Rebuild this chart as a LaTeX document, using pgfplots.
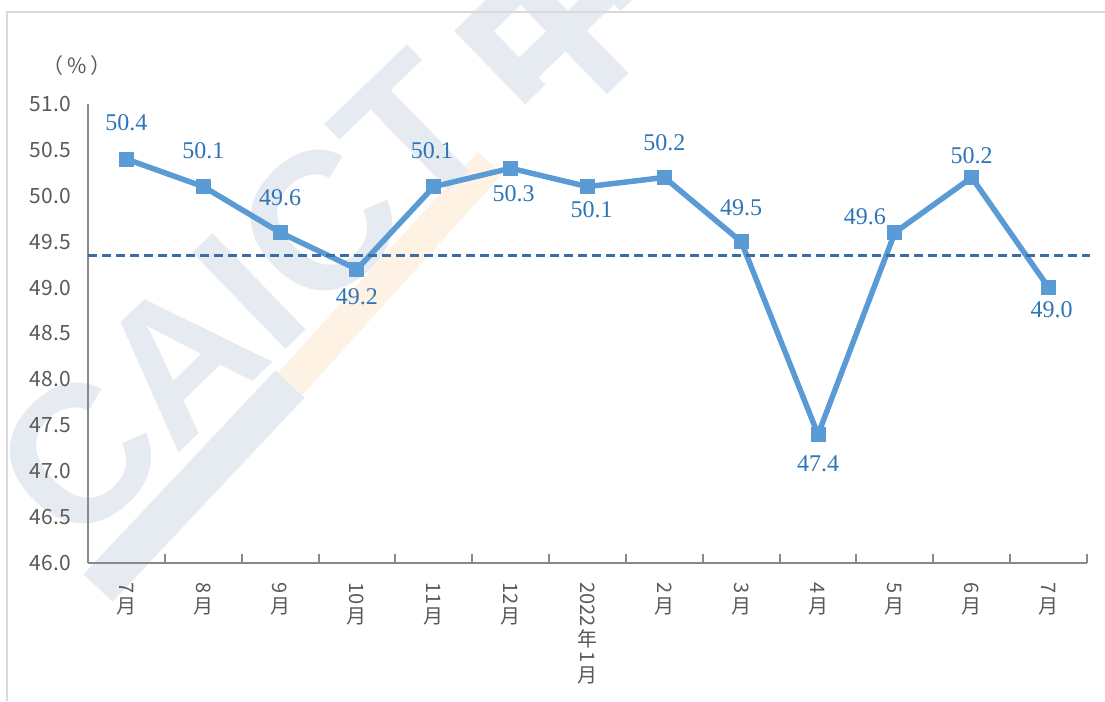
\documentclass[border=0pt]{standalone}
\usepackage{pgfplots}
\pgfplotsset{compat=1.18}
\usepackage{pgfplotstable}
\usepackage{graphicx}
\usepackage{fontspec}
\setmainfont{Liberation Serif}
\newfontfamily\cjk{Noto Sans CJK SC}
\newfontfamily\wmf{Liberation Sans}
\definecolor{linecol}{HTML}{5B9BD5}
\definecolor{labcol}{HTML}{2E75B6}
\definecolor{dashcol}{HTML}{3A6EA5}
\definecolor{axcol}{HTML}{898989}
\definecolor{tickcol}{HTML}{595959}
\definecolor{wmcol}{HTML}{E6EAF1}
\definecolor{wmor}{HTML}{FDF2E4}
\definecolor{framecol}{HTML}{D9D9D9}
\newcommand{\R}[1]{\rotatebox[origin=c]{-90}{#1}}

\pgfplotstableread{
x y dx dy
0.5 50.4 0 36
1.5 50.1 0 36
2.5 49.6 0 35
3.5 49.2 0 -27
4.5 50.1 -2 36
5.5 50.3 3 -25
6.5 50.1 4 -23
7.5 50.2 0 35
8.5 49.5 0 34
9.5 47.4 0 -29
10.5 49.6 -30 16
11.5 50.2 0 22
12.5 49.0 3 -22
}\pmidata

\begin{document}
\begin{tikzpicture}
\useasboundingbox (0pt,0pt) rectangle (1105pt,701pt);
% watermark
\draw[wmcol, line width=40pt] (98pt,113pt) -- (290pt,317pt);
\draw[wmor, line width=33pt] (290pt,317pt) -- (490pt,538pt);
\node[rotate=44, anchor=base west, inner sep=0pt, text=wmcol,
      font=\wmf\bfseries\fontsize{195}{195}\selectfont] at (74pt,147pt) {CAICT};
\node[rotate=44, anchor=base west, inner sep=0pt, text=wmcol,
      font=\cjk\bfseries\fontsize{195}{195}\selectfont] at (535pt,562pt) {中};
% frame
\draw[framecol, line width=2pt] (7pt,0pt) -- (7pt,688.5pt) -- (1105pt,688.5pt);
% unit
\node[font=\cjk\fontsize{21}{21}\selectfont, text=tickcol] at (77pt,635pt) {（\hspace{4pt}\%\hspace{4pt}）};
\begin{axis}[
  at={(88pt,138pt)}, anchor=south west,
  scale only axis, width=999pt, height=459pt,
  xmin=0, xmax=13, ymin=46, ymax=51,
  clip=false,
  axis x line*=bottom, axis y line*=left,
  axis line style={axcol, line width=2pt, -},
  /pgf/number format/assume math mode=true,
  xtick={0.5,1.5,2.5,3.5,4.5,5.5,6.5,7.5,8.5,9.5,10.5,11.5,12.5},
  xticklabels={
    \shortstack{\R{7}\\月},
    \shortstack{\R{8}\\月},
    \shortstack{\R{9}\\月},
    \shortstack{\R{10}\\月},
    \shortstack{\R{11}\\月},
    \shortstack{\R{12}\\月},
    \shortstack{\R{2022}\\年\\\R{1}\\月},
    \shortstack{\R{2}\\月},
    \shortstack{\R{3}\\月},
    \shortstack{\R{4}\\月},
    \shortstack{\R{5}\\月},
    \shortstack{\R{6}\\月},
    \shortstack{\R{7}\\月}},
  minor xtick={0,1,2,3,4,5,6,7,8,9,10,11,12,13},
  major tick length=0pt, minor tick length=9pt,
  tick align=inside,
  tick style={axcol, line width=2pt},
  ytick={46,46.5,47,47.5,48,48.5,49,49.5,50,50.5,51},
  y tick label style={/pgf/number format/fixed, /pgf/number format/fixed zerofill, /pgf/number format/precision=1},
  yticklabel style={font=\cjk\fontsize{21}{21}\selectfont, text=tickcol, inner sep=0pt, anchor=east, xshift=-17pt},
  xticklabel style={font=\cjk\fontsize{20}{20}\selectfont, text=tickcol, inner sep=0pt, anchor=north, yshift=-19pt},
]
\addplot[linecol, line width=5.5pt, mark=square*, mark size=7pt,
  mark options={solid, line width=0pt, draw=linecol, fill=linecol},
  point meta=\thisrow{y},
  nodes near coords={\pgfmathprintnumber[fixed,fixed zerofill,precision=1]{\pgfplotspointmeta}},
  visualization depends on={\thisrow{dx} \as \labdx},
  visualization depends on={\thisrow{dy} \as \labdy},
  every node near coord/.append style={anchor=center, inner sep=0pt, xshift=\labdx pt, yshift=\labdy pt, text=labcol, font=\fontsize{24}{24}\selectfont}
] table[x=x,y=y] {\pmidata};
\addplot[dashcol, line width=3pt, dash pattern=on 9pt off 5pt, forget plot] coordinates {(0,49.35) (13.04,49.35)};
\end{axis}
\end{tikzpicture}
\end{document}
